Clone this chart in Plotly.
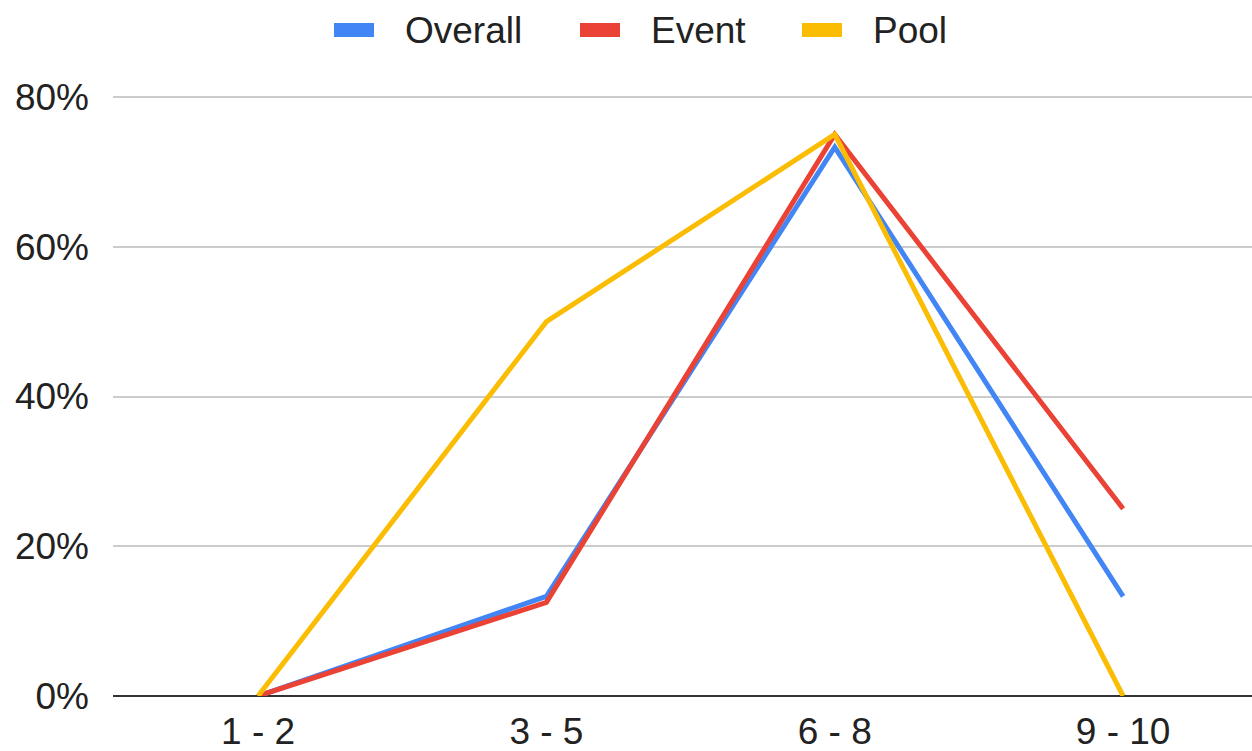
import plotly.graph_objects as go

# Score bands and the share of responses in each band
categories = ["1 - 2", "3 - 5", "6 - 8", "9 - 10"]
overall = [0.0, 0.133, 0.733, 0.133]
event = [0.0, 0.125, 0.75, 0.25]
pool = [0.0, 0.50, 0.75, 0.0]

series_names = ["Overall", "Event", "Pool"]
series_colors = ["#4285F4", "#EA4335", "#FBBC04"]
series_values = [overall, event, pool]

y_ticks = [0, 0.2, 0.4, 0.6, 0.8]
y_tick_labels = ["0%", "20%", "40%", "60%", "80%"]

font_family = "Liberation Sans, Arial, sans-serif"
text_color = "#222222"
font_size = 37

# Plot-area geometry in pixels
W, H = 1252, 751
M_L, M_R, M_T, M_B = 113, 0, 95, 55
PLOT_W = W - M_L - M_R
PLOT_H = H - M_T - M_B


def px_to_paper_x(px):
    return (px - M_L) / PLOT_W


def px_to_paper_y(py):
    return (H - M_B - py) / PLOT_H


fig = go.Figure()

for name, color, vals in zip(series_names, series_colors, series_values):
    fig.add_trace(go.Scatter(
        x=categories, y=vals, mode="lines", name=name,
        line=dict(color=color, width=5),
        showlegend=False, hoverinfo="skip",
    ))

# Legend row across the top: colour swatch followed by series name
legend_swatch_left = [334, 580, 802]
swatch_w, swatch_h, text_gap = 40, 14, 29
legend_cy = 30
shapes = []
annotations = []
for name, color, left in zip(series_names, series_colors, legend_swatch_left):
    shapes.append(dict(
        type="rect", xref="paper", yref="paper",
        x0=px_to_paper_x(left), x1=px_to_paper_x(left + swatch_w),
        y0=px_to_paper_y(legend_cy + swatch_h / 2),
        y1=px_to_paper_y(legend_cy - swatch_h / 2),
        fillcolor=color, line=dict(width=0),
    ))
    annotations.append(dict(
        text=name, xref="paper", yref="paper",
        x=px_to_paper_x(left + swatch_w + text_gap), xanchor="left",
        y=px_to_paper_y(legend_cy), yanchor="middle",
        showarrow=False, font=dict(size=font_size, color=text_color),
    ))

fig.update_layout(
    width=W, height=H,
    margin=dict(l=M_L, r=M_R, t=M_T, b=M_B),
    paper_bgcolor="white", plot_bgcolor="white",
    font=dict(family=font_family, size=font_size, color=text_color),
    showlegend=False,
    shapes=shapes, annotations=annotations,
    xaxis=dict(
        type="category", range=[-0.503, 3.447],
        showgrid=False, zeroline=False, showline=False,
        ticks="", ticklabelstandoff=10,
        tickfont=dict(size=font_size, color=text_color),
    ),
    yaxis=dict(
        range=[0, 0.8027], tickvals=y_ticks, ticktext=y_tick_labels,
        showgrid=True, gridcolor="#CCCCCC", gridwidth=2,
        zeroline=True, zerolinecolor="#333333", zerolinewidth=2,
        ticks="", ticklabelstandoff=23,
        tickfont=dict(size=font_size, color=text_color),
    ),
)

fig.write_html("out.html")
